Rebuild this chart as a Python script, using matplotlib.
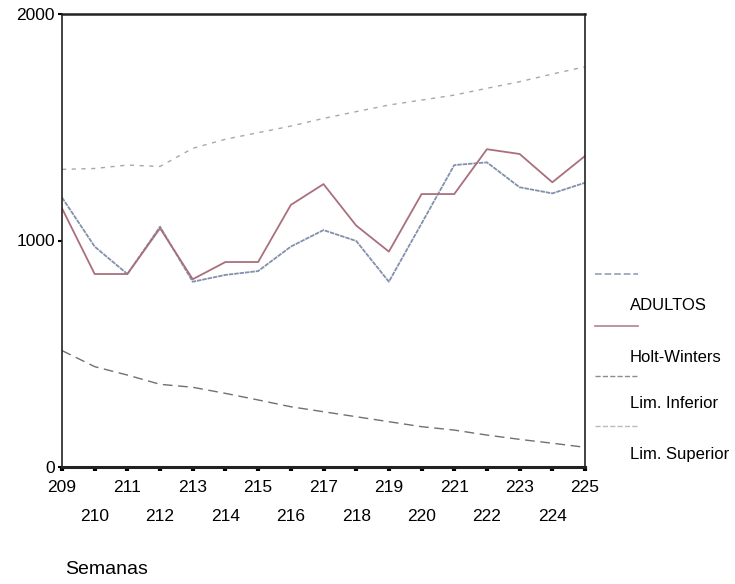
import matplotlib
matplotlib.use("Agg")
import matplotlib.pyplot as plt
from matplotlib.lines import Line2D

plt.rcParams['font.family'] = ['Liberation Sans', 'DejaVu Sans']

semanas = list(range(209, 226))
adultos = [1190, 973, 852, 1061, 818, 848, 865, 973, 1046, 998, 818, 1075, 1333, 1345, 1235, 1208, 1255]
holt_winters = [1142, 852, 852, 1054, 829, 905, 905, 1157, 1249, 1066, 951, 1205, 1205, 1403, 1382, 1257, 1373]
lim_inferior = [514, 443, 406, 365, 352, 325, 296, 266, 244, 222, 200, 178, 163, 141, 122, 105, 87]
lim_superior = [1314, 1318, 1333, 1327, 1407, 1447, 1476, 1505, 1539, 1569, 1598, 1620, 1642, 1672, 1701, 1735, 1767]
series_names = ['ADULTOS', 'Holt-Winters', 'Lim. Inferior', 'Lim. Superior']
y_ticks = [0, 1000, 2000]

fig = plt.figure(figsize=(7.35, 5.84), dpi=100)
ax = fig.add_axes([62/735, 1-467/584, (585-62)/735, (467-14)/584])

styles = [
    dict(color='#8390ad', lw=1.3, ls=(0, (2.5, 0.5))),
    dict(color='#a8707c', lw=1.3, ls='-'),
    dict(color='#707070', lw=1.0, ls=(0, (7, 4))),
    dict(color='#a8a8a8', lw=1.0, ls=(0, (3, 4))),
]
data = [adultos, holt_winters, lim_inferior, lim_superior]
lines = []
for d, st in zip(data, styles):
    l, = ax.plot(semanas, d, **st)
    lines.append(l)

ax.set_xlim(209, 225)
ax.set_ylim(0, 2000)
ax.set_yticks(y_ticks)
ax.set_yticklabels([str(v) for v in y_ticks])
ax.set_xticks(semanas)
labels = [str(s) if i % 2 == 0 else '\n' + str(s) for i, s in enumerate(semanas)]
ax.set_xticklabels(labels)
for lab in ax.get_xticklabels():
    lab.set_linespacing(2.2)
ax.tick_params(axis='x', direction='out', length=3, width=3, pad=6, labelsize=12.5)
ax.tick_params(axis='y', direction='out', length=3, width=1.5, pad=2, labelsize=12.5)

for side, w in [('left', 1.2), ('bottom', 2.2), ('top', 1.8), ('right', 1.2)]:
    ax.spines[side].set_linewidth(w)
    ax.spines[side].set_color('#222222')

fig.text(65/735, 1-570/584, 'Semanas', fontsize=14, ha='left', va='center')

# legend (manual, label below line sample)
line_y = [274, 326, 376, 426]
text_y = [306, 358, 404, 455]
for l, name, ly, ty in zip(lines, series_names, line_y, text_y):
    fig.add_artist(Line2D([595/735, 638/735], [1-ly/584, 1-ly/584],
                          color=l.get_color(), lw=l.get_linewidth(), ls=l.get_linestyle(),
                          alpha=0.8, transform=fig.transFigure))
    fig.text(630/735, 1-ty/584, name, fontsize=12, ha='left', va='center')

fig.savefig('out.png', dpi=100)
